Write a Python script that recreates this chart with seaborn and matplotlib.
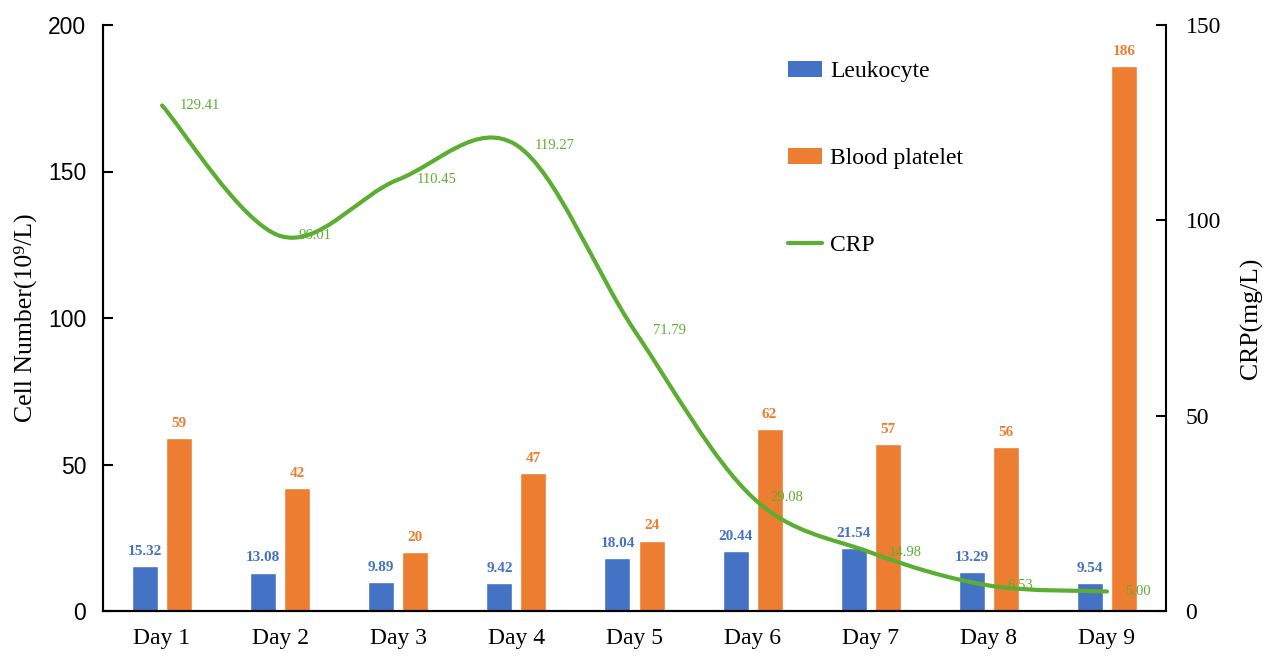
import matplotlib
matplotlib.use("Agg")
import matplotlib.pyplot as plt
import numpy as np
import pandas as pd
import seaborn as sns
from matplotlib.lines import Line2D
from matplotlib.patches import Patch, PathPatch
from matplotlib.path import Path

days = ["Day 1", "Day 2", "Day 3", "Day 4", "Day 5", "Day 6", "Day 7", "Day 8", "Day 9"]
leukocyte = [15.32, 13.08, 9.89, 9.42, 18.04, 20.44, 21.54, 13.29, 9.54]
platelet = [59, 42, 20, 47, 24, 62, 57, 56, 186]
crp = [129.41, 96.01, 110.45, 119.27, 71.79, 29.08, 14.98, 6.53, 5.00]

BLUE = "#4472C4"
ORANGE = "#ED7D31"
GREEN = "#5BAE32"
SERIF = ["Liberation Serif", "DejaVu Serif"]
SANS = ["Liberation Sans", "DejaVu Sans"]


def smooth_path(xs, ys):
    # Excel-style smoothed line: cubic Bezier through each data point
    pts = np.column_stack([xs, ys]).astype(float)
    n = len(pts)
    verts = [pts[0]]
    codes = [Path.MOVETO]
    for i in range(n - 1):
        p_prev = pts[i - 1] if i > 0 else pts[i]
        p_next2 = pts[i + 2] if i + 2 < n else pts[i + 1]
        c1 = pts[i] + (pts[i + 1] - p_prev) / 6.0
        c2 = pts[i + 1] - (p_next2 - pts[i]) / 6.0
        verts += [c1, c2, pts[i + 1]]
        codes += [Path.CURVE4] * 3
    return Path(verts, codes)


sns.set_theme(style="white")
plt.rcParams.update(
    {
        "font.family": SERIF,
        "axes.linewidth": 1.5,
        "axes.edgecolor": "black",
        "text.color": "black",
        "axes.labelcolor": "black",
        "xtick.color": "black",
        "ytick.color": "black",
    }
)

df = pd.DataFrame(
    {
        "day": days * 2,
        "value": leukocyte + platelet,
        "series": ["Leukocyte"] * len(days) + ["Blood platelet"] * len(days),
    }
)

fig = plt.figure(figsize=(12.71, 6.58), dpi=100)
ax = fig.add_axes([103 / 1271, 47 / 658, 1063 / 1271, 586 / 658])

sns.barplot(
    data=df,
    x="day",
    y="value",
    hue="series",
    palette=[BLUE, ORANGE],
    width=0.576,
    gap=0.236,
    saturation=1,
    legend=False,
    ax=ax,
)
ax.bar_label(ax.containers[0], labels=[f"{v:.2f}" for v in leukocyte], padding=6,
             color=BLUE, fontsize=11, fontweight="bold", family=SERIF)
ax.bar_label(ax.containers[1], labels=[f"{v:d}" for v in platelet], padding=6,
             color=ORANGE, fontsize=11, fontweight="bold", family=SERIF)

ax.set_xlim(-0.5, len(days) - 0.5)
ax.set_ylim(0, 200)
ax.set_yticks(np.arange(0, 201, 50))
ax.set_xlabel("")
ax.set_ylabel("Cell Number(10⁹/L)", fontsize=18.5, family=SERIF, labelpad=8)
ax.set_xticks(np.arange(-0.5, len(days)), minor=True)
ax.tick_params(axis="x", which="major", length=0, pad=12, labelsize=17)
ax.tick_params(axis="x", which="minor", direction="in", length=7, width=1.5, color="black")
ax.tick_params(axis="y", direction="in", length=7, width=1.5, pad=12, labelsize=16.5, left=True)
for lbl in ax.get_yticklabels():
    lbl.set_family(SANS)
ax.spines["top"].set_visible(False)
ax.spines["right"].set_visible(False)

ax2 = ax.twinx()
ax2.set_ylim(0, 150)
ax2.set_yticks(np.arange(0, 151, 50))
x_pos = np.arange(len(days))
ax2.add_patch(PathPatch(smooth_path(x_pos, crp), facecolor="none", edgecolor=GREEN,
                        lw=3, capstyle="round"))
for xi, v in zip(x_pos, crp):
    ax2.annotate(f"{v:.2f}", (xi, v), xytext=(13, 0), textcoords="offset points",
                 ha="left", va="center", color=GREEN, fontsize=10.5, family=SERIF)
ax2.tick_params(axis="y", direction="in", length=7, width=1.5, pad=14, labelsize=17, right=True)
ax2.set_ylabel("CRP(mg/L)", fontsize=18.5, family=SERIF, labelpad=14)
ax2.spines["top"].set_visible(False)
ax2.grid(False)

handles = [
    Patch(facecolor=BLUE, edgecolor="none"),
    Patch(facecolor=ORANGE, edgecolor="none"),
    Line2D([0], [0], color=GREEN, lw=3),
]
ax2.legend(
    handles,
    ["Leukocyte", "Blood platelet", "CRP"],
    loc="upper left",
    bbox_to_anchor=(0.624, 0.975),
    frameon=False,
    prop={"family": SERIF, "size": 17},
    labelspacing=2.77,
    handlelength=1.45,
    handleheight=0.7,
    handletextpad=0.35,
)

fig.savefig("out.png", dpi=100, facecolor="white")
